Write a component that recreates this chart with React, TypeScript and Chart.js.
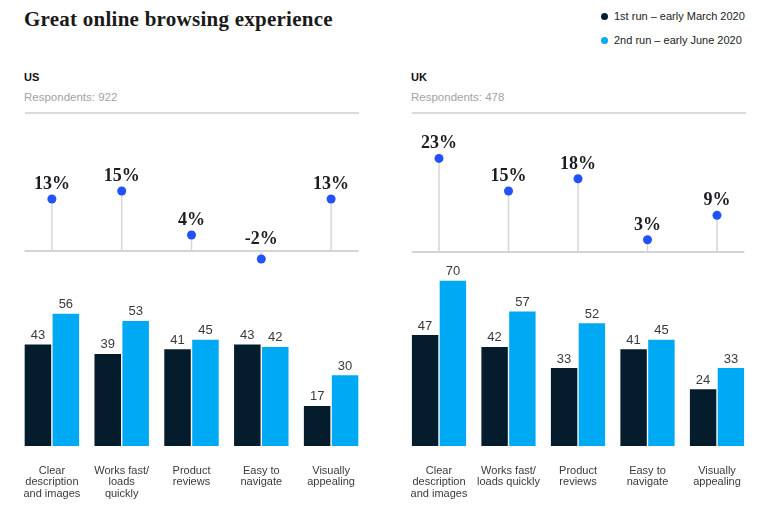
import React, { useEffect, useRef } from 'react';
import { Chart, registerables } from 'chart.js';

Chart.register(...registerables);

const SERIES_NAMES = ['1st run – early March 2020', '2nd run – early June 2020'];
const US_TICK_LABELS = [
  ['Clear', 'description', 'and images'],
  ['Works fast/', 'loads', 'quickly'],
  ['Product', 'reviews'],
  ['Easy to', 'navigate'],
  ['Visually', 'appealing'],
];
const UK_TICK_LABELS = [
  ['Clear', 'description', 'and images'],
  ['Works fast/', 'loads quickly'],
  ['Product', 'reviews'],
  ['Easy to', 'navigate'],
  ['Visually', 'appealing'],
];
const US_MARCH = [43, 39, 41, 43, 17];
const US_JUNE = [56, 53, 45, 42, 30];
const US_CHANGE = [13, 15, 4, -2, 13];
const UK_MARCH = [47, 42, 33, 41, 24];
const UK_JUNE = [70, 57, 52, 45, 33];
const UK_CHANGE = [23, 15, 18, 3, 9];

const DARK = '#051C2C';
const CYAN = '#00A9F4';
const DOT = '#2251FF';
const SANS = '"Liberation Sans", Arial, sans-serif';
const SERIF = '"Liberation Serif", "Times New Roman", serif';

type PanelGeom = {
  left: number;
  width: number;
  padL: number;
  padR: number;
  lolliBase: number;
  lolliPx: number;
};

const LOLLI_TOP = 120;
const LOLLI_H = 155;
const LOLLI_MIN = -4;
const LOLLI_MAX = 25;
const BAR_TOP = 255;
const BAR_H = 274;
const BAR_BASE = 446;
const BAR_PX = 2.36;
const BAR_MAX = 80;

const baselinePlugin = {
  id: 'lolliBaseline',
  beforeDatasetsDraw(chart: any) {
    const { ctx, chartArea } = chart;
    const y0 = chart.scales.y.getPixelForValue(0);
    ctx.save();
    ctx.strokeStyle = '#d4d4d4';
    ctx.lineWidth = 2;
    ctx.beginPath();
    ctx.moveTo(chartArea.left + 7.5, y0);
    ctx.lineTo(chartArea.right - 7.5, y0);
    ctx.stroke();
    ctx.restore();
  },
};

const lolliLabelPlugin = {
  id: 'lolliLabels',
  afterDatasetsDraw(chart: any) {
    const { ctx } = chart;
    const meta = chart.getDatasetMeta(1);
    const y0 = chart.scales.y.getPixelForValue(0);
    const data = chart.data.datasets[1].data as number[];
    ctx.save();
    ctx.font = `bold 18px ${SERIF}`;
    ctx.fillStyle = '#1c1c22';
    ctx.textAlign = 'center';
    ctx.textBaseline = 'alphabetic';
    meta.data.forEach((pt: any, i: number) => {
      const v = data[i];
      const y = v >= 0 ? pt.y - 10 : y0 - 7;
      ctx.fillText(`${v}%`, pt.x, y);
    });
    ctx.restore();
  },
};

const barLabelPlugin = {
  id: 'barLabels',
  afterDatasetsDraw(chart: any) {
    const { ctx } = chart;
    ctx.save();
    ctx.font = `13px ${SANS}`;
    ctx.fillStyle = '#3a3a3a';
    ctx.textAlign = 'center';
    ctx.textBaseline = 'alphabetic';
    chart.data.datasets.forEach((ds: any, di: number) => {
      const meta = chart.getDatasetMeta(di);
      meta.data.forEach((bar: any, i: number) => {
        ctx.fillText(String(ds.data[i]), bar.x, bar.y - 5.5);
      });
    });
    ctx.restore();
  },
};

function Lollipop({ geom, values, labels }: { geom: PanelGeom; values: number[]; labels: string[][] }) {
  const ref = useRef<HTMLCanvasElement>(null);
  useEffect(() => {
    const baseInCanvas = geom.lolliBase - LOLLI_TOP;
    const padTop = baseInCanvas - LOLLI_MAX * geom.lolliPx;
    const padBottom = LOLLI_H - (baseInCanvas - LOLLI_MIN * geom.lolliPx);
    const chart = new Chart(ref.current as HTMLCanvasElement, {
      type: 'bar',
      data: {
        labels: labels.map((l) => l.join(' ')),
        datasets: [
          {
            type: 'bar',
            data: values,
            backgroundColor: '#d6d6d6',
            grouped: false,
            maxBarThickness: 1.5,
            order: 2,
          } as any,
          {
            type: 'line',
            data: values,
            showLine: false,
            pointRadius: 4.5,
            pointBackgroundColor: DOT,
            pointBorderWidth: 0,
            order: 1,
          } as any,
        ],
      },
      options: {
        animation: false,
        responsive: false,
        layout: { padding: { left: geom.padL, right: geom.padR, top: padTop, bottom: padBottom } },
        plugins: { legend: { display: false }, tooltip: { enabled: false } },
        scales: {
          x: { display: false, offset: true },
          y: { display: false, min: LOLLI_MIN, max: LOLLI_MAX },
        },
      },
      plugins: [baselinePlugin, lolliLabelPlugin],
    });
    return () => chart.destroy();
  }, []);
  return (
    <canvas
      ref={ref}
      width={geom.width}
      height={LOLLI_H}
      style={{ position: 'absolute', left: geom.left, top: LOLLI_TOP, width: geom.width, height: LOLLI_H }}
    />
  );
}

function Bars({ geom, march, june, labels }: { geom: PanelGeom; march: number[]; june: number[]; labels: string[][] }) {
  const ref = useRef<HTMLCanvasElement>(null);
  useEffect(() => {
    const baseInCanvas = BAR_BASE - BAR_TOP;
    const padTop = baseInCanvas - BAR_MAX * BAR_PX;
    const axisH = BAR_H - baseInCanvas;
    const chart = new Chart(ref.current as HTMLCanvasElement, {
      type: 'bar',
      data: {
        labels: labels,
        datasets: [
          {
            label: SERIES_NAMES[0],
            data: march,
            backgroundColor: DARK,
            categoryPercentage: 0.8,
            barPercentage: 0.95,
          },
          {
            label: SERIES_NAMES[1],
            data: june,
            backgroundColor: CYAN,
            categoryPercentage: 0.8,
            barPercentage: 0.95,
          },
        ],
      },
      options: {
        animation: false,
        responsive: false,
        layout: { padding: { left: geom.padL, right: geom.padR, top: padTop, bottom: 0 } },
        plugins: { legend: { display: false }, tooltip: { enabled: false } },
        scales: {
          x: {
            grid: { display: false, drawTicks: false },
            border: { display: false },
            ticks: {
              color: '#3a3a3a',
              font: { family: SANS, size: 11, lineHeight: 1.05 },
              padding: 19,
              maxRotation: 0,
              autoSkip: false,
            },
            afterFit: (scale: any) => {
              scale.height = axisH;
            },
          },
          y: { display: false, min: 0, max: BAR_MAX },
        },
      },
      plugins: [barLabelPlugin],
    });
    return () => chart.destroy();
  }, []);
  return (
    <canvas
      ref={ref}
      width={geom.width}
      height={BAR_H}
      style={{ position: 'absolute', left: geom.left, top: BAR_TOP, width: geom.width, height: BAR_H }}
    />
  );
}

const US_GEOM: PanelGeom = { left: 0, width: 390, padL: 17, padR: 24, lolliBase: 251, lolliPx: 4.0 };
const UK_GEOM: PanelGeom = { left: 390, width: 386, padL: 14.25, padR: 24.25, lolliBase: 252, lolliPx: 4.07 };

function Header({ x, name, respondents }: { x: number; name: string; respondents: string }) {
  return (
    <>
      <div style={{ position: 'absolute', left: x, top: 70, font: `bold 11px/14px ${SANS}`, color: '#111' }}>{name}</div>
      <div style={{ position: 'absolute', left: x, top: 90, font: `11.5px/14px ${SANS}`, color: '#a3a3a3' }}>{respondents}</div>
      <div style={{ position: 'absolute', left: x + 1, top: 112, width: 334, height: 2, background: '#dadada' }} />
    </>
  );
}

export default function App() {
  return (
    <div style={{ position: 'absolute', left: 0, top: 0, width: 776, height: 529, background: '#fff', overflow: 'hidden' }}>
      <div style={{ position: 'absolute', left: 24, top: 9, font: `bold 21px/21px ${SERIF}`, letterSpacing: '0.25px', color: '#1a1a1a', whiteSpace: 'nowrap' }}>
        Great online browsing experience
      </div>
      {SERIES_NAMES.map((name, i) => (
        <div key={name} style={{ position: 'absolute', left: 601, top: 9 + i * 24, height: 14, display: 'flex', alignItems: 'center', whiteSpace: 'nowrap' }}>
          <span style={{ width: 7, height: 7, borderRadius: '50%', background: i === 0 ? DARK : CYAN, display: 'inline-block', marginRight: 6 }} />
          <span style={{ font: `11px/14px ${SANS}`, color: '#222' }}>{name}</span>
        </div>
      ))}
      <Header x={24} name="US" respondents="Respondents: 922" />
      <Header x={411} name="UK" respondents="Respondents: 478" />
      <Lollipop geom={US_GEOM} values={US_CHANGE} labels={US_TICK_LABELS} />
      <Lollipop geom={UK_GEOM} values={UK_CHANGE} labels={UK_TICK_LABELS} />
      <Bars geom={US_GEOM} march={US_MARCH} june={US_JUNE} labels={US_TICK_LABELS} />
      <Bars geom={UK_GEOM} march={UK_MARCH} june={UK_JUNE} labels={UK_TICK_LABELS} />
    </div>
  );
}
